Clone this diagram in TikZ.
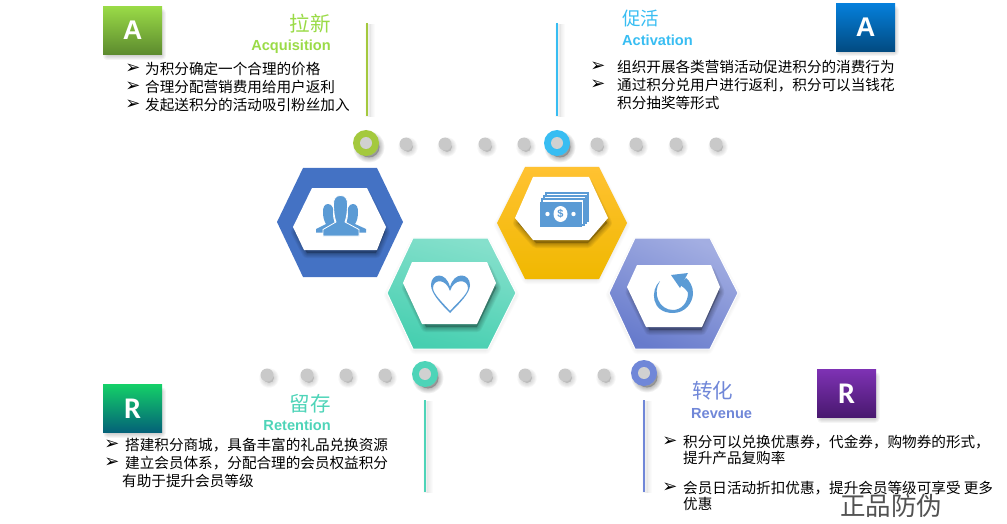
\documentclass[tikz,border=0pt]{standalone}
\usepackage{fontspec}
\setmainfont{Liberation Sans}
\newfontfamily\cjk{Noto Sans CJK SC}
\newfontfamily\dejavu{DejaVu Sans}
\newfontfamily\carlito{Carlito}
\definecolor{icon}{HTML}{5B9BD5}
\definecolor{cgreen}{HTML}{9ADB47}
\definecolor{ccyan}{HTML}{38BDF2}
\definecolor{cteal}{HTML}{4ED4B8}
\definecolor{cperi}{HTML}{7087D8}
\definecolor{dotgray}{HTML}{C9C9C9}
\definecolor{lime}{HTML}{A4C93E}
\definecolor{sqgreenb}{HTML}{5C8A2E}
\definecolor{sqbluet}{HTML}{0580DC}
\definecolor{sqblueb}{HTML}{024A80}
\definecolor{sqtealt}{HTML}{14D068}
\definecolor{sqtealb}{HTML}{036078}
\definecolor{sqpurt}{HTML}{7E32B4}
\definecolor{sqpurb}{HTML}{48186E}
\definecolor{hexblue}{HTML}{4472C4}
\definecolor{hexyelt}{HTML}{FFC232}
\definecolor{hexyelb}{HTML}{F0B800}
\definecolor{hextealt}{HTML}{86E0CC}
\definecolor{hextealb}{HTML}{46CFB0}
\definecolor{hexperit}{HTML}{A3AEE2}
\definecolor{hexperib}{HTML}{677BCC}
\newcommand{\softshade}[4]{% dx, dy, opacity, path
  \foreach \w in {10,8,6,4,2}{
    \path[xshift=#1pt,yshift=-#2pt,fill=black,draw=black,line join=round,line width=\w pt,opacity=#3] #4;
  }}
\newcommand{\smalldot}[3]{%
  \softshade{2}{3}{0.032}{(#2,#3) circle[radius=5]}
  \node[smalldotstyle] (#1) at (#2,#3) {};}
\newcommand{\bigdot}[4]{%
  \softshade{3}{4}{0.055}{(#2,#3) circle[radius=10.5]}
  \node[bigdotstyle,fill=#4] (#1) at (#2,#3) {};
  \node[smalldotstyle,minimum size=12pt,fill=dotgray!85!white] (#1c) at (#2,#3) {};}
\newcommand{\vbar}[5]{% x,y1,y2,colour,name
  \softshade{3}{1}{0.014}{(#1,#2) -- (#1,#3)}
  \coordinate (#5a) at (#1,#2); \coordinate (#5b) at (#1,#3);
  \draw[color=#4,line width=2pt] (#5a) -- (#5b);}
\tikzset{
  smalldotstyle/.style={circle,fill=dotgray,minimum size=13pt,inner sep=0pt},
  bigdotstyle/.style={circle,minimum size=26pt,inner sep=0pt},
  lettersq/.style={minimum width=59pt,minimum height=48.5pt,inner sep=0pt,text=white},
  bodytext/.style={anchor=west,inner sep=0pt,text=black,font=\cjk\fontsize{14.6}{14.6}\selectfont},
  bul/.style={anchor=center,inner sep=0pt,text=black,font=\dejavu\fontsize{18}{18}\selectfont},
  cntitle/.style={inner sep=0pt,font=\cjk\fontsize{20.5}{20.5}\selectfont},
  entitle/.style={inner sep=0pt,font=\bfseries\fontsize{14.6}{14.6}\selectfont},
}
\begin{document}
\begin{tikzpicture}[x=1pt,y=-1pt]
\useasboundingbox (0,0) rectangle (1007,524);

% letter squares
\softshade{1.5}{3.5}{0.04}{(106,10) rectangle (159,52)}
\node[lettersq,top color=cgreen,bottom color=sqgreenb] (sqa1) at (132.5,30.5) {\bfseries\fontsize{27}{27}\selectfont A};
\softshade{1.5}{3.5}{0.04}{(839,7) rectangle (892,48)}
\node[lettersq,top color=sqbluet,bottom color=sqblueb] (sqa2) at (865.5,27.5) {\bfseries\fontsize{27}{27}\selectfont A};
\softshade{1.5}{3.5}{0.04}{(106,388) rectangle (159,429)}
\node[lettersq,top color=sqtealt,bottom color=sqtealb] (sqr1) at (132.5,408.5) {\carlito\bfseries\fontsize{30}{30}\selectfont R};
\softshade{1.5}{3.5}{0.04}{(820,373) rectangle (873,414)}
\node[lettersq,top color=sqpurt,bottom color=sqpurb] (sqr2) at (846.5,393.5) {\carlito\bfseries\fontsize{30}{30}\selectfont R};

% titles
\node[cntitle,text=cgreen,anchor=east] (t1) at (331,24) {拉新};
\node[entitle,text=cgreen,anchor=east] (e1) at (331,47) {Acquisition};
\node[cntitle,text=ccyan,anchor=west,font=\cjk\fontsize{18.5}{18.5}\selectfont] (t2) at (622,18.5) {促活};
\node[entitle,text=ccyan,anchor=west] (e2) at (622,40) {Activation};
\node[cntitle,text=cteal,anchor=east] (t3) at (331,404) {留存};
\node[entitle,text=cteal,anchor=east] (e3) at (331,425) {Retention};
\node[cntitle,text=cperi,anchor=west] (t4) at (692,391) {转化};
\node[entitle,text=cperi,anchor=west] (e4) at (691,414) {Revenue};

% body text
\node[bul] (b11) at (133,69) {➢};
\node[bul] (b12) at (133,87) {➢};
\node[bul] (b13) at (133,105) {➢};
\node[bodytext] (x11) at (145,69) {为积分确定一个合理的价格};
\node[bodytext] (x12) at (145,87) {合理分配营销费用给用户返利};
\node[bodytext] (x13) at (145,105) {发起送积分的活动吸引粉丝加入};

\node[bul] (b21) at (598,67) {➢};
\node[bul] (b22) at (598,85) {➢};
\node[bodytext] (x21) at (617,67) {组织开展各类营销活动促进积分的消费行为};
\node[bodytext] (x22) at (617,85) {通过积分兑用户进行返利，积分可以当钱花};
\node[bodytext] (x23) at (617,103) {积分抽奖等形式};

\node[bul] (b31) at (112,445) {➢};
\node[bul] (b32) at (112,463) {➢};
\node[bodytext] (x31) at (125,445) {搭建积分商城，具备丰富的礼品兑换资源};
\node[bodytext] (x32) at (125,463) {建立会员体系，分配合理的会员权益积分};
\node[bodytext] (x33) at (122,481) {有助于提升会员等级};

\node[bul] (b41) at (670,442) {➢};
\node[bul] (b42) at (670,488) {➢};
\node[bodytext] (x41) at (683,442) {积分可以兑换优惠券，代金券，购物券的形式，};
\node[bodytext] (x42) at (683,458) {提升产品复购率};
\node[bodytext] (x43) at (683,488) {会员日活动折扣优惠，提升会员等级可享受 更多};
\node[bodytext] (x44) at (683,504) {优惠};

\node[inner sep=0pt,text=black!68,font=\cjk\fontsize{25.5}{25.5}\selectfont] (wm) at (891,506) {正品防伪};

% vertical bars
\vbar{367}{23}{116}{lime}{l1}
\vbar{557}{23}{116}{ccyan}{l2}
\vbar{424.5}{400}{492}{cteal}{l3}
\vbar{644}{400}{492}{cperi}{l4}

% dots
\bigdot{d1}{366}{143}{lime}
\smalldot{d2}{406}{144}
\smalldot{d3}{445}{144}
\smalldot{d4}{485}{144}
\smalldot{d5}{524}{144}
\bigdot{d6}{557}{143}{ccyan}
\smalldot{d7}{597}{144}
\smalldot{d8}{636}{144}
\smalldot{d9}{676}{144}
\smalldot{d10}{716}{144}
\smalldot{d11}{267}{375}
\smalldot{d12}{307}{375}
\smalldot{d13}{346}{375}
\smalldot{d14}{385}{375}
\bigdot{d15}{425}{374}{cteal}
\smalldot{d16}{486}{375}
\smalldot{d17}{525}{375}
\smalldot{d18}{565}{375}
\smalldot{d19}{604}{375}
\bigdot{d20}{644}{373}{cperi}

% blue hexagon
\fill[hexblue] (303,168) -- (377,168) -- (403,222) -- (377,277) -- (303,277) -- (277,222) -- cycle;
\begin{scope}
\clip (303,168) -- (377,168) -- (403,222) -- (377,277) -- (303,277) -- (277,222) -- cycle;
\softshade{1}{5}{0.055}{(314,190) -- (365,190) -- (384,227) -- (375,248) -- (306,248) -- (295,227) -- cycle}
\end{scope}
\fill[white] (312,188) -- (367,188) -- (386,227) -- (377,250) -- (304,250) -- (293,227) -- cycle;

% yellow hexagon
\softshade{0}{2}{0.016}{(527,169) -- (597,169) -- (625,223) -- (597,277) -- (527,277) -- (499,223) -- cycle}
\shade[top color=hexyelt,bottom color=hexyelb] (525,167) -- (599,167) -- (627,223) -- (599,279) -- (525,279) -- (497,223) -- cycle;
\begin{scope}
\clip (525,167) -- (599,167) -- (627,223) -- (599,279) -- (525,279) -- (497,223) -- cycle;
\softshade{1}{5}{0.055}{(535,179) -- (587,179) -- (606,218) -- (587,238) -- (535,238) -- (517,218) -- cycle}
\end{scope}
\fill[white] (533,177) -- (589,177) -- (608,218) -- (589,240) -- (533,240) -- (515,218) -- cycle;

% teal hexagon
\softshade{0}{2}{0.016}{(415,240) -- (486,240) -- (514,293) -- (486,347) -- (415,347) -- (389,293) -- cycle}
\shade[top color=hextealt,bottom color=hextealb,shading angle=-15,draw=white,line width=1pt] (413,238) -- (488,238) -- (516,293) -- (488,349) -- (413,349) -- (387,293) -- cycle;
\begin{scope}
\clip (413,238) -- (488,238) -- (516,293) -- (488,349) -- (413,349) -- (387,293) -- cycle;
\softshade{2}{5}{0.055}{(414,264) -- (485,264) -- (494,283) -- (475,322) -- (424,322) -- (405,283) -- cycle}
\end{scope}
\fill[white] (412,262) -- (487,262) -- (496,283) -- (477,324) -- (422,324) -- (403,283) -- cycle;

% periwinkle hexagon
\softshade{0}{2}{0.016}{(637,240) -- (708,240) -- (736,293) -- (708,347) -- (637,347) -- (611,293) -- cycle}
\shade[top color=hexperit,bottom color=hexperib,shading angle=-25,draw=white,line width=1pt] (635,238) -- (710,238) -- (738,293) -- (710,349) -- (635,349) -- (609,293) -- cycle;
\begin{scope}
\clip (635,238) -- (710,238) -- (738,293) -- (710,349) -- (635,349) -- (609,293) -- cycle;
\softshade{1.5}{5}{0.055}{(639,267) -- (709,267) -- (718,287) -- (700,325) -- (648,325) -- (629,287) -- cycle}
\end{scope}
\fill[white] (637,265) -- (711,265) -- (720,287) -- (702,327) -- (646,327) -- (627,287) -- cycle;

% people icon
\fill[icon] (328,204) .. controls (324,204) and (323,208) .. (323,212) .. controls (323,217) and (324,221) .. (326,224) -- (316,229) -- (316,232.5) -- (324,232.5) -- (324,230) -- (335,224) .. controls (332,216) and (333,209) .. (333,208) .. controls (332,205) and (330,204) .. (328,204) -- cycle;
\fill[icon] (353,204) .. controls (357,204) and (358,208) .. (358,212) .. controls (358,217) and (357,221) .. (355,224) -- (366,229) -- (366,232.5) -- (358,232.5) -- (358,230) -- (346,224) .. controls (349,216) and (348,209) .. (348,208) .. controls (349,205) and (351,204) .. (353,204) -- cycle;
\fill[icon,draw=white,line width=0.8pt] (340.5,195.5) .. controls (335.5,195.5) and (333.5,199) .. (333.5,204) .. controls (333.5,212) and (334.5,218) .. (336,222) -- (323,229.5) -- (323,236) -- (359,236) -- (359,229.5) -- (345,222) .. controls (346.5,218) and (347.5,212) .. (347.5,204) .. controls (347.5,199) and (345.5,195.5) .. (340.5,195.5) -- cycle;

% banknote icon
\draw[icon,line width=1.2pt,fill=white] (546,193) rectangle (588,221);
\draw[icon,line width=1.2pt,fill=white] (544,196) rectangle (586,223);
\draw[icon,line width=1.2pt,fill=white] (542,199) rectangle (584,225);
\fill[icon] (540,201.5) rectangle (582,227);
\fill[white] (560.5,214) ellipse[x radius=7,y radius=8];
\fill[white] (547.5,214) circle[radius=2.2];
\fill[white] (573.5,214) circle[radius=2.2];
\node[inner sep=0pt,text=icon,font=\bfseries\fontsize{11}{11}\selectfont] (dollar) at (560.5,214) {\$};

% heart icon
\fill[icon,even odd rule] (450,313) .. controls (440,303) and (431,293) .. (431,285) .. controls (431,273) and (446,271) .. (450,287) .. controls (454,271) and (470,273) .. (470,285) .. controls (470,293) and (460,303) .. (450,313) -- cycle
 (450,311) .. controls (443,303) and (433,294) .. (433,288) .. controls (433,279) and (446,278) .. (450,291) .. controls (454,278) and (468,279) .. (468,288) .. controls (468,294) and (457,303) .. (450,311) -- cycle;

% refresh icon
\fill[icon] (660,281) .. controls (650,290) and (651,313) .. (673,313) .. controls (685,313) and (693,303) .. (693,293) .. controls (693,287) and (690,281) .. (686,278) -- (680,285) .. controls (685,288) and (688,292) .. (688,293) .. controls (688,303) and (681,310) .. (673,310) .. controls (659,310) and (652,293) .. (660,281) -- cycle;
\fill[icon] (671,275) -- (688,273) -- (680,288) -- cycle;
\end{tikzpicture}
\end{document}
